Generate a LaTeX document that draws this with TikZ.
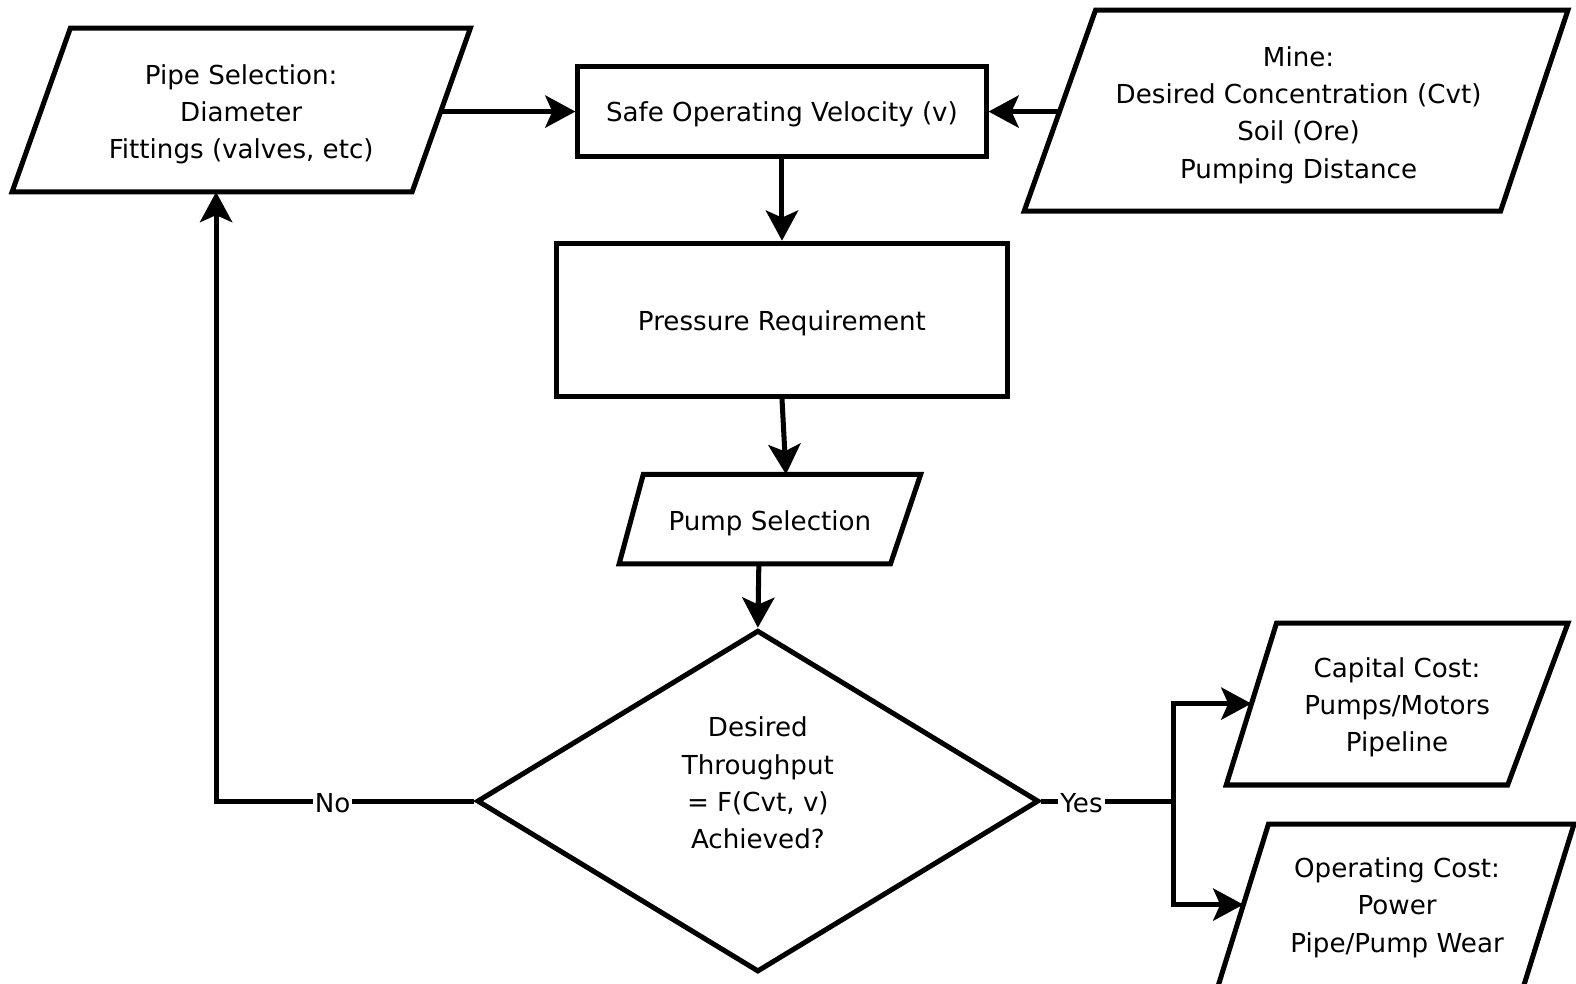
\documentclass[tikz,border=0pt]{standalone}
\usepackage{fontspec}
\setmainfont{DejaVu Sans}
\usetikzlibrary{arrows.meta,shapes.geometric}
\begin{document}
\begin{tikzpicture}[x=1pt,y=-1pt,
  every node/.style={font=\fontsize{26}{37}\selectfont, align=center, inner sep=0pt},
  shapeline/.style={draw=black, line width=5pt, line join=miter},
  proc/.style={shapeline, rectangle},
  conn/.style={line width=5pt, -{Stealth[length=30pt,width=32pt,inset=7pt]}},
  plainline/.style={line width=5pt},
  lab/.style={fill=white, inner sep=2pt}]
\useasboundingbox[fill=white] (0,0) rectangle (1568,979);

% parallelograms (data)
\draw[shapeline] (70,28) -- (468,28) -- (410,191) -- (12,191) -- cycle;
\node (pipe) at (240,114) {Pipe Selection:\\Diameter\\Fittings (valves, etc)};
\coordinate (pipeR) at (438.5,111);
\coordinate (pipeB) at (215,191);

\draw[shapeline] (1090,10) -- (1560,10) -- (1493,210) -- (1019,210) -- cycle;
\node (mine) at (1292,114.5) {Mine:\\Desired Concentration (Cvt)\\Soil (Ore)\\Pumping Distance};
\coordinate (mineL) at (1054,111);

\draw[shapeline] (640,472) -- (916,472) -- (886,561) -- (616,561) -- cycle;
\node (pump) at (766,521) {Pump Selection};
\coordinate (pumpT) at (782,472);
\coordinate (pumpB) at (755,561);

\draw[shapeline] (1270,620) -- (1560,620) -- (1500,781) -- (1220,781) -- cycle;
\node (cap) at (1390,704) {Capital Cost:\\Pumps/Motors\\Pipeline};
\coordinate (capL) at (1245,700);

\draw[shapeline] (1262,820) -- (1566,820) -- (1510,1000) -- (1206,1000) -- cycle;
\node (op) at (1390,903) {Operating Cost:\\Power\\Pipe/Pump Wear};
\coordinate (opL) at (1237,900);

% process boxes
\node[proc, minimum width=406pt, minimum height=89pt] (safe) at (778,111) {};
\node (safet) at (778,114) {Safe Operating Velocity (v)};
\node[proc, minimum width=449pt, minimum height=152pt] (press) at (778,318) {};
\node (presst) at (778,322) {Pressure Requirement};

% decision
\node[shapeline, diamond, minimum width=559pt, minimum height=340pt] (dec) at (754,797) {};
\node (dect) at (754,779) {Desired\\Throughput\\= F(Cvt, v)\\Achieved?};

% connectors
\draw[conn] (pipeR) -- (safe.west);
\draw[conn] (mineL) -- (safe.east);
\draw[conn] (safe.south) -- (press.north);
\draw[conn] (press.south) -- (pumpT);
\draw[conn] (pumpB) -- (dec.north);
\draw[conn] (dec.west) -| (pipeB);
\node[lab] (no) at (331,799) {No};
\coordinate (split) at (1168,797);
\draw[plainline] (dec.east) -- (split);
\draw[conn] (split) |- (capL);
\draw[conn] (split) |- (opL);
\node[lab] (yes) at (1076,799) {Yes};
\end{tikzpicture}
\end{document}
